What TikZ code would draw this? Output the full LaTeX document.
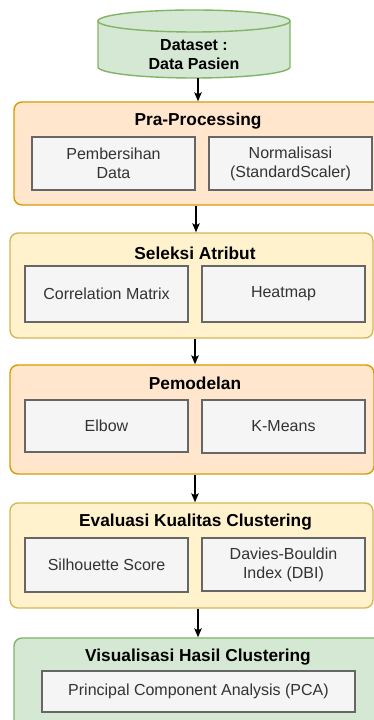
\documentclass[tikz,border=0pt]{standalone}
\usepackage{fontspec}
\setmainfont{Liberation Sans}
\usetikzlibrary{arrows.meta}
\definecolor{orfill}{HTML}{FFE6CC}
\definecolor{ordraw}{HTML}{D79B00}
\definecolor{yefill}{HTML}{FFF2CC}
\definecolor{yedraw}{HTML}{D6B656}
\definecolor{grfill}{HTML}{D5E8D4}
\definecolor{grdraw}{HTML}{82B366}
\definecolor{gyfill}{HTML}{F5F5F5}
\definecolor{gydraw}{HTML}{666666}
\definecolor{gytext}{HTML}{333333}
\tikzset{
  x=1pt, y=1pt,
  outerbox/.style={rounded corners=8pt, line width=1.4pt, inner sep=0pt},
  orbox/.style={outerbox, fill=orfill, draw=ordraw},
  yebox/.style={outerbox, fill=yefill, draw=yedraw},
  grbox/.style={outerbox, fill=grfill, draw=grdraw},
  innerbox/.style={draw=gydraw, fill=gyfill, line width=1.2pt, inner sep=0pt,
    text=gytext, align=center, font=\fontsize{16}{19}\selectfont},
  titletext/.style={font=\fontsize{17.3}{20}\bfseries\selectfont, text=black, inner sep=0pt},
  arr/.style={line width=1.2pt, -{Stealth[length=9pt,width=7.5pt,inset=2pt]}},
}
\begin{document}
\begin{tikzpicture}
\useasboundingbox (0,0) rectangle (374,720);
\clip (0,0) rectangle (374,720);
% cylinder
\fill[grfill] (98,699) -- (98,653) arc[start angle=180,end angle=360,x radius=96,y radius=11] -- (290,699) arc[start angle=0,end angle=180,x radius=96,y radius=11] -- cycle;
\draw[grdraw, line width=1.4pt] (98,699) -- (98,653) arc[start angle=180,end angle=360,x radius=96,y radius=11] -- (290,699);
\draw[grdraw, line width=1.4pt] (194,699) ellipse[x radius=96,y radius=11];
\node[minimum width=192pt, minimum height=68pt, inner sep=0pt, align=center,
  font=\fontsize{16}{19}\bfseries\selectfont] (ds) at (194,676) {};
\node[align=center, font=\fontsize{16}{19}\bfseries\selectfont, inner sep=0pt] (dst) at (194,665.5) {Dataset :\\Data Pasien};

% Pra-Processing
\node[orbox, minimum width=376pt, minimum height=103pt] (pra) at (202,566.5) {};
\node[titletext] (prat) at (198,599) {Pra-Processing};
\node[innerbox, minimum width=163pt, minimum height=53pt] (pra1) at (113.5,556.5) {Pembersihan\\Data};
\node[innerbox, minimum width=163pt, minimum height=53pt] (pra2) at (290.5,556.5) {Normalisasi\\(StandardScaler)};

% Seleksi Atribut
\node[yebox, minimum width=363pt, minimum height=105pt] (sel) at (191.5,434.5) {};
\node[titletext] (selt) at (195,467) {Seleksi Atribut};
\node[innerbox, minimum width=163pt, minimum height=56pt] (sel1) at (106.5,426) {Correlation Matrix};
\node[innerbox, minimum width=163pt, minimum height=56pt] (sel2) at (283.5,426) {Heatmap};

% Pemodelan
\node[orbox, minimum width=364pt, minimum height=109pt] (pem) at (192,300.5) {};
\node[titletext] (pemt) at (195,337) {Pemodelan};
\node[innerbox, minimum width=163pt, minimum height=52pt] (pem1) at (106.5,294) {Elbow};
\node[innerbox, minimum width=163pt, minimum height=53pt] (pem2) at (283.5,293.5) {K-Means};

% Evaluasi
\node[yebox, minimum width=363pt, minimum height=105pt] (eva) at (191.5,164.5) {};
\node[titletext] (evat) at (195.5,198) {Evaluasi Kualitas Clustering};
\node[innerbox, minimum width=163pt, minimum height=54pt] (eva1) at (106.5,155) {Silhouette Score};
\node[innerbox, minimum width=163pt, minimum height=53pt] (eva2) at (283.5,155.5) {Davies-Bouldin\\Index (DBI)};

% Visualisasi
\node[grbox, minimum width=376pt, minimum height=100pt] (vis) at (202,32) {};
\node[titletext] (vist) at (198,63) {Visualisasi Hasil Clustering};
\node[innerbox, minimum width=313pt, minimum height=41pt] (vis1) at (198.5,28.5) {Principal Component Analysis (PCA)};

% connectors
\draw[arr] ([xshift=4pt]ds.south) -- ([xshift=4pt]ds.south |- pra.north);
\draw[arr] ([xshift=-6pt]pra.south) -- ([xshift=-6pt]pra.south |- sel.north);
\draw[arr] ([xshift=3.5pt]sel.south) -- ([xshift=3.5pt]sel.south |- pem.north);
\draw[arr] ([xshift=3pt]pem.south) -- ([xshift=3pt]pem.south |- eva.north);
\draw[arr] ([xshift=6.5pt]eva.south) -- ([xshift=6.5pt]eva.south |- vis.north);
\end{tikzpicture}
\end{document}
